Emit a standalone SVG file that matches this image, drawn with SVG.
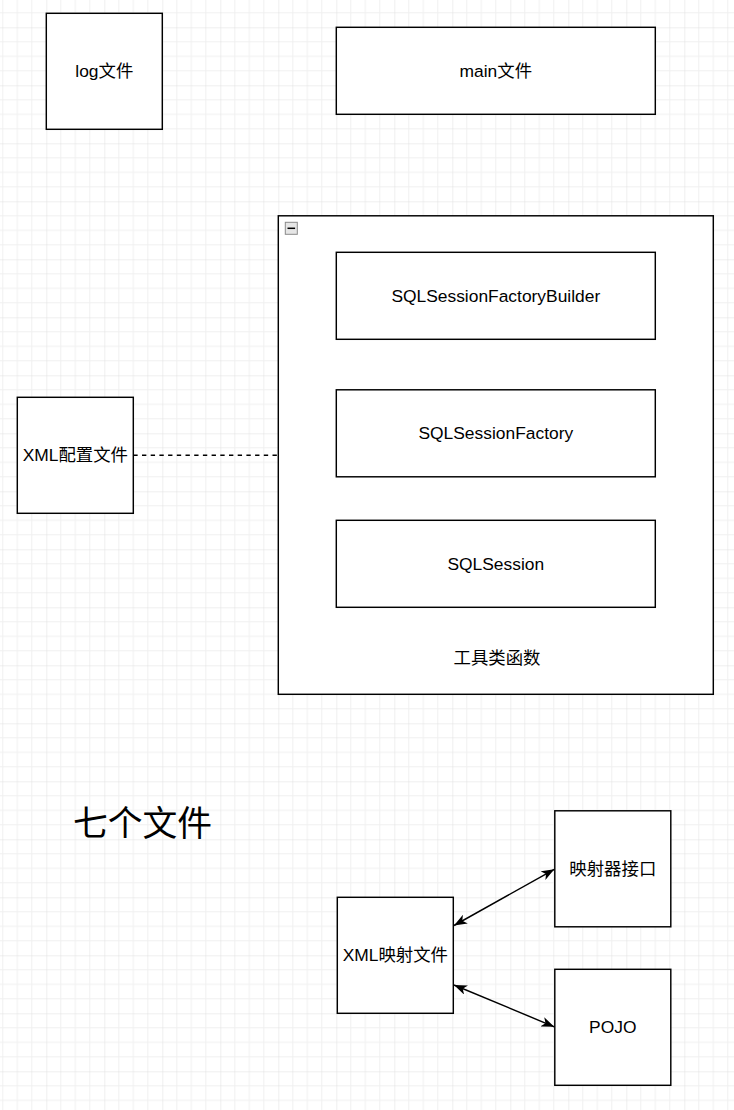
<svg xmlns="http://www.w3.org/2000/svg" width="734" height="1110" viewBox="0 0 734 1110">
  <style>
    .box { fill: #ffffff; stroke: #000000; stroke-width: 1.45; }
    .lbl { font-family: "Liberation Sans", "Noto Sans CJK SC", sans-serif; font-size: 17.4px; fill: #000000; text-anchor: middle; dominant-baseline: central; }
    .big { font-family: "Liberation Sans", "Noto Sans CJK SC", sans-serif; font-size: 34.8px; fill: #000000; text-anchor: middle; dominant-baseline: central; }
    .edge { fill: none; stroke: #000000; stroke-width: 1.45; }
  </style>
  <defs>
    <pattern id="grid" x="46.3" y="27.3" width="58" height="58" patternUnits="userSpaceOnUse">
      <path d="M14.5,0 V58 M29,0 V58 M43.5,0 V58 M0,14.5 H58 M0,29 H58 M0,43.5 H58" stroke="#f0f0f0" stroke-width="1" fill="none"/>
      <path d="M0,0 V58 M0,0 H58" stroke="#e0e0e0" stroke-width="1" fill="none"/>
    </pattern>
    <marker id="arr" viewBox="0 0 13 10" refX="13" refY="5" markerWidth="13" markerHeight="10" markerUnits="userSpaceOnUse" orient="auto-start-reverse">
      <path d="M0,0 L13,5 L0,10 L3.5,5 Z" fill="#000000"/>
    </marker>
  </defs>
  <rect x="0" y="0" width="734" height="1110" fill="#ffffff"/>
  <rect x="0" y="0" width="734" height="1110" fill="url(#grid)"/>

  <g id="log">
    <rect class="box" x="46.3" y="13.3" width="116" height="116"/>
    <text class="lbl" x="104.3" y="71.3">log文件</text>
  </g>
  <g id="main">
    <rect class="box" x="336.3" y="27.3" width="319" height="87"/>
    <text class="lbl" x="495.8" y="70.8">main文件</text>
  </g>
  <g id="tools">
    <rect class="box" x="278.3" y="215.8" width="435" height="478.5"/>
    <rect x="285.3" y="222.3" width="12" height="12" fill="#e6e6e6" stroke="#8a8a8a" stroke-width="1"/>
    <line x1="287.5" y1="228.3" x2="295.1" y2="228.3" stroke="#000000" stroke-width="1.5"/>
    <text class="lbl" x="497" y="658">工具类函数</text>
  </g>
  <g id="builder">
    <rect class="box" x="336.3" y="252.3" width="319" height="87"/>
    <text class="lbl" x="495.8" y="295.8">SQLSessionFactoryBuilder</text>
  </g>
  <g id="factory">
    <rect class="box" x="336.3" y="389.8" width="319" height="87"/>
    <text class="lbl" x="495.8" y="433.3">SQLSessionFactory</text>
  </g>
  <g id="session">
    <rect class="box" x="336.3" y="520.3" width="319" height="87"/>
    <text class="lbl" x="495.8" y="563.8">SQLSession</text>
  </g>
  <g id="xmlconfig">
    <rect class="box" x="17.3" y="397.3" width="116" height="116"/>
    <text class="lbl" x="75.3" y="455.3">XML配置文件</text>
  </g>
  <g id="title">
    <text class="big" x="142.5" y="823.5">七个文件</text>
  </g>
  <g id="mapperif">
    <rect class="box" x="554.8" y="810.8" width="116" height="116"/>
    <text class="lbl" x="612.8" y="868.8">映射器接口</text>
  </g>
  <g id="pojo">
    <rect class="box" x="554.8" y="969.3" width="116" height="116"/>
    <text class="lbl" x="612.8" y="1027.3">POJO</text>
  </g>
  <g id="xmlmapper">
    <rect class="box" x="337.3" y="897.3" width="116" height="116"/>
    <text class="lbl" x="395.3" y="955.3">XML映射文件</text>
  </g>

  <g id="connectors">
    <line class="edge" x1="133.3" y1="455.3" x2="278.3" y2="455.3" stroke-dasharray="4.35 4.35"/>
    <line class="edge" x1="454" y1="925.5" x2="554.3" y2="869.3" marker-start="url(#arr)" marker-end="url(#arr)"/>
    <line class="edge" x1="454" y1="985" x2="554.3" y2="1026.8" marker-start="url(#arr)" marker-end="url(#arr)"/>
  </g>
</svg>
